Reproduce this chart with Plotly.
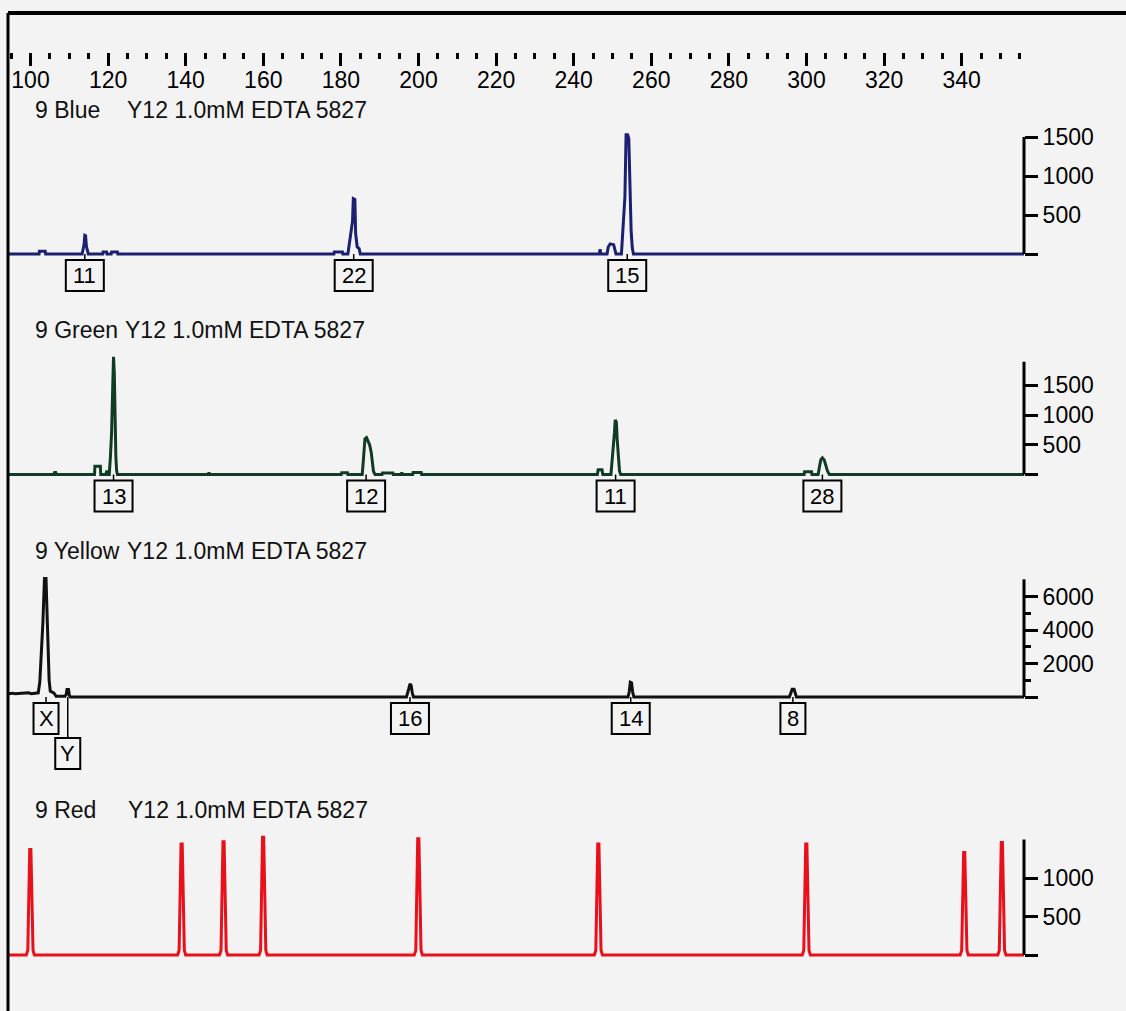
import plotly.graph_objects as go

W, H = 1126, 1011
BG = "#f3f3f3"
FONT = "Liberation Sans"

# ---------------- data (size in bp, signal in RFU) ----------------
ruler_major = [100, 120, 140, 160, 180, 200, 220, 240, 260, 280, 300, 320, 340]
ruler_minor = [95, 105, 110, 115, 125, 130, 135, 145, 150, 155, 165, 170, 175,
               185, 190, 195, 205, 210, 215, 225, 230, 235, 245, 250, 255,
               265, 270, 275, 285, 290, 295, 305, 310, 315, 325, 330, 335,
               345, 350, 355]
size_range = [94.2, 356.06]

blue_bp = [94.2, 102.2, 102.3, 103.8, 103.9,
           113.3, 113.6, 113.8, 114.0, 114.2, 114.4, 114.6, 114.9,
           118.6, 118.7, 119.6, 119.7, 120.8, 120.9, 122.4, 122.5,
           178.2, 178.3, 180.4, 180.5,
           181.8, 182.2, 182.6, 183.0, 183.2, 183.6, 183.8, 184.2, 184.7, 185.0,
           246.6, 246.8, 247.0,
           248.6, 248.9, 249.4, 250.3, 250.6, 250.9,
           252.3, 252.6, 252.9, 253.2, 253.5, 253.9, 254.2, 254.5, 254.8, 255.1, 255.4,
           356.06]
blue_rfu = [0, 0, 35, 35, 0,
            0, 70, 120, 240, 235, 100, 50, 0,
            0, 25, 25, 0, 0, 25, 25, 0,
            0, 25, 25, 0,
            0, 150, 280, 420, 710, 700, 260, 90, 70, 0,
            0, 60, 0,
            0, 90, 130, 120, 60, 0,
            0, 250, 500, 730, 1530, 1530, 1480, 700, 300, 80, 0,
            0]

green_bp = [94.2, 106.0, 106.2, 106.5, 106.7,
            116.5, 116.6, 118.0, 118.1,
            119.4, 119.6, 119.9, 120.1,
            120.3, 120.6, 120.9, 121.2, 121.4, 121.6, 121.8, 122.0, 122.2, 122.4,
            145.8, 146.0, 146.2,
            180.1, 180.2, 181.7, 181.8,
            185.5, 185.8, 186.0, 186.2, 186.6, 187.0, 187.4, 187.8, 188.1, 188.4, 188.8,
            190.6, 190.7, 193.4, 193.5,
            195.5, 195.7, 195.9,
            198.5, 198.6, 200.7, 200.8,
            246.1, 246.3, 247.3, 247.5,
            249.6, 249.9, 250.2, 250.5, 250.7, 251.0, 251.2, 251.5, 251.8, 252.1,
            299.4, 299.5, 301.3, 301.4,
            303.0, 303.4, 303.7, 304.1, 304.6, 305.0, 305.4, 305.9,
            356.06]
green_rfu = [0, 0, 35, 35, 0,
             0, 140, 140, 0,
             0, 45, 45, 0,
             0, 300, 700, 1500, 1980, 1700, 800, 300, 60, 0,
             0, 35, 0,
             0, 30, 30, 0,
             0, 250, 450, 600, 620, 560, 500, 380, 150, 50, 0,
             0, 25, 25, 0,
             0, 35, 0,
             0, 35, 35, 0,
             0, 80, 80, 0,
             0, 200, 420, 700, 920, 880, 600, 250, 60, 0,
             0, 45, 45, 0,
             0, 150, 250, 280, 240, 150, 60, 0,
             0]

yellow_bp = [94.2, 95.5, 96.0, 97.0, 98.5, 99.5, 100.2, 101.5, 102.0,
             102.4, 102.8, 103.2, 103.6, 104.0, 104.4, 104.8, 105.1, 105.6, 106.0,
             106.3, 106.6, 108.9, 109.2, 109.4, 109.8, 110.0, 110.3,
             196.9, 197.2, 197.5, 197.8, 198.1, 198.4, 198.7,
             254.0, 254.3, 254.6, 254.9, 255.2, 255.5,
             295.6, 295.9, 296.3, 296.8, 297.1, 297.4,
             356.06]
yellow_rfu = [200, 230, 190, 210, 200, 250, 200, 210, 250,
              900, 2400, 4500, 7100, 7100, 4000, 1000, 350, 300, 250,
              150, 50, 50, 150, 450, 450, 100, 0,
              0, 200, 500, 780, 700, 250, 0,
              0, 300, 880, 850, 300, 0,
              0, 250, 460, 460, 250, 0,
              0]

red_bp = [94.2,
          98.9, 99.3, 99.55, 99.8, 100.1, 100.4, 100.65, 101.0,
          137.9, 138.3, 138.55, 138.8, 139.1, 139.4, 139.65, 140.0,
          148.7, 149.1, 149.35, 149.6, 149.9, 150.2, 150.45, 150.8,
          158.9, 159.3, 159.55, 159.8, 160.1, 160.4, 160.65, 161.0,
          198.9, 199.3, 199.55, 199.8, 200.1, 200.4, 200.65, 201.0,
          245.3, 245.7, 245.95, 246.2, 246.5, 246.8, 247.05, 247.4,
          298.9, 299.3, 299.55, 299.8, 300.1, 300.4, 300.65, 301.0,
          339.6, 340.0, 340.25, 340.5, 340.8, 341.1, 341.35, 341.7,
          349.3, 349.7, 349.95, 350.2, 350.5, 350.8, 351.05, 351.4,
          356.06]
red_rfu = [0,
           0, 60, 690, 1370, 1370, 550, 60, 0,
           0, 60, 720, 1440, 1440, 580, 60, 0,
           0, 60, 740, 1470, 1470, 590, 60, 0,
           0, 60, 770, 1530, 1530, 610, 60, 0,
           0, 60, 760, 1510, 1510, 600, 60, 0,
           0, 60, 720, 1440, 1440, 580, 60, 0,
           0, 60, 720, 1440, 1440, 580, 60, 0,
           0, 60, 670, 1330, 1330, 530, 60, 0,
           0, 60, 730, 1460, 1460, 580, 60, 0,
           0]

blue_labels = ["11", "22", "15"]
blue_label_bp = [114.0, 183.3, 253.8]
green_labels = ["13", "12", "11", "28"]
green_label_bp = [121.4, 186.5, 250.8, 304.1]
yellow_labels = ["X", "Y", "16", "14", "8"]
yellow_label_bp = [104.0, 109.6, 197.8, 254.7, 296.5]
yellow_label_row = [0, 1, 0, 0, 0]

title_sample = "Y12 1.0mM EDTA 5827"

# ---------------- layout geometry (pixels) ----------------
X_LEFT, X_RIGHT = 8, 1024
xdom = [X_LEFT / W, X_RIGHT / W]

panels = [
    dict(name="9 Blue", color="#1b2070", width=3, x=blue_bp, y=blue_rfu,
         base=254, ppu=117 / 1500, top=125, axtop=1500,
         tickvals=[0, 500, 1000, 1500], ticktext=["", "500", "1000", "1500"], minor=[],
         title_y=110, sample_x=125, labels=blue_labels, label_bp=blue_label_bp,
         rows=[0, 0, 0]),
    dict(name="9 Green", color="#123b25", width=3, x=green_bp, y=green_rfu,
         base=474.5, ppu=29.7 / 500, top=350, axtop=1900,
         tickvals=[0, 500, 1000, 1500], ticktext=["", "500", "1000", "1500"], minor=[],
         title_y=330, sample_x=123, labels=green_labels, label_bp=green_label_bp,
         rows=[0, 0, 0, 0]),
    dict(name="9 Yellow", color="#111111", width=3, x=yellow_bp, y=yellow_rfu,
         base=697, ppu=16.7 / 1000, top=570, axtop=7050,
         tickvals=[0, 2000, 4000, 6000], ticktext=["", "2000", "4000", "6000"],
         minor=[1000, 3000, 5000],
         title_y=551, sample_x=125, labels=yellow_labels, label_bp=yellow_label_bp,
         rows=yellow_label_row),
    dict(name="9 Red", color="#e8101a", width=3, x=red_bp, y=red_rfu,
         base=955, ppu=38.5 / 500, top=830, axtop=1500,
         tickvals=[0, 500, 1000], ticktext=["", "500", "1000"], minor=[],
         title_y=810, sample_x=126, labels=[], label_bp=[], rows=[]),
]

fig = go.Figure()
shapes = []
annotations = []
layout = dict(
    width=W, height=H,
    margin=dict(l=0, r=0, t=0, b=0),
    paper_bgcolor=BG, plot_bgcolor="rgba(0,0,0,0)",
    showlegend=False,
    xaxis=dict(domain=xdom, range=size_range, visible=False, fixedrange=True),
)

for i, p in enumerate(panels):
    n = i + 1
    yname = "y" if n == 1 else f"y{n}"
    ykey = "yaxis" if n == 1 else f"yaxis{n}"
    extra = 80 if p["labels"] else 10
    bottom_px = p["base"] + extra
    ydomain = [(H - bottom_px) / H, (H - p["top"]) / H]
    yrange = [-extra / p["ppu"], (p["base"] - p["top"]) / p["ppu"]]
    layout[ykey] = dict(
        domain=ydomain, range=yrange, anchor="x", side="right",
        showgrid=False, zeroline=False, showline=False,
        ticks="outside", ticklen=13, tickwidth=3, tickcolor="black",
        tickmode="array", tickvals=p["tickvals"], ticktext=p["ticktext"],
        tickfont=dict(family=FONT, size=23, color="black"),
        minor=dict(tickmode="array", tickvals=p["minor"], ticks="outside",
                   ticklen=6, tickwidth=3, tickcolor="black"),
        fixedrange=True,
    )
    fig.add_trace(go.Scatter(
        x=p["x"], y=p["y"], xaxis="x", yaxis=yname, mode="lines",
        line=dict(color=p["color"], width=p["width"]),
        hoverinfo="skip", showlegend=False))
    # vertical axis line up to top value
    shapes.append(dict(type="line", xref="x domain", yref=yname, x0=1, x1=1,
                       y0=0, y1=p["axtop"], line=dict(color="black", width=3)))
    # titles
    annotations.append(dict(text=p["name"], xref="paper", yref="paper",
                            x=33 / W, y=(H - p["title_y"]) / H,
                            xanchor="left", yanchor="middle", showarrow=False,
                            font=dict(family=FONT, size=23, color="#111")))
    annotations.append(dict(text=title_sample, xref="paper", yref="paper",
                            x=p["sample_x"] / W, y=(H - p["title_y"]) / H,
                            xanchor="left", yanchor="middle", showarrow=False,
                            font=dict(family=FONT, size=23, color="#111")))
    # allele label boxes
    for lab, bp, row in zip(p["labels"], p["label_bp"], p["rows"]):
        off = 6 if row == 0 else 41
        bh = 31
        bw = 38 if len(lab) > 1 else 25
        shapes.append(dict(type="line", xref="x", yref=yname, x0=bp, x1=bp,
                           ysizemode="pixel", yanchor=0, y0=0, y1=-off,
                           line=dict(color="black", width=1.5)))
        shapes.append(dict(type="rect", xref="x", yref=yname,
                           xsizemode="pixel", xanchor=bp, x0=-bw / 2, x1=bw / 2,
                           ysizemode="pixel", yanchor=0, y0=-off, y1=-(off + bh),
                           fillcolor=BG, line=dict(color="black", width=2)))
        annotations.append(dict(text=lab, xref="x", yref=yname, x=bp, y=0,
                                yshift=-(off + bh / 2), xanchor="center",
                                yanchor="middle", showarrow=False,
                                font=dict(family=FONT, size=22, color="black")))

# size ruler at top
layout["xaxis5"] = dict(
    domain=xdom, range=size_range, anchor="free", position=(H - 52) / H,
    side="bottom", showline=False, showgrid=False, zeroline=False,
    ticks="outside", ticklen=13, tickwidth=3, tickcolor="black",
    tickmode="array", tickvals=ruler_major, ticktext=[str(v) for v in ruler_major],
    tickfont=dict(family=FONT, size=23, color="black"),
    ticklabelstandoff=-6,
    minor=dict(tickmode="array", tickvals=ruler_minor, ticks="outside",
               ticklen=6, tickwidth=3, tickcolor="black"),
    fixedrange=True,
)
fig.add_trace(go.Scatter(x=size_range, y=[0, 0], xaxis="x5", yaxis="y",
                         mode="lines", line=dict(width=0), opacity=0,
                         hoverinfo="skip", showlegend=False))

# frame
shapes.append(dict(type="line", xref="paper", yref="paper", x0=8 / W, x1=1,
                   y0=(H - 13) / H, y1=(H - 13) / H, line=dict(color="black", width=4)))
shapes.append(dict(type="line", xref="paper", yref="paper", x0=8 / W, x1=8 / W,
                   y0=0, y1=(H - 13) / H, line=dict(color="black", width=3)))

layout["shapes"] = shapes
layout["annotations"] = annotations
fig.update_layout(**layout)
fig.write_html("out.html")
